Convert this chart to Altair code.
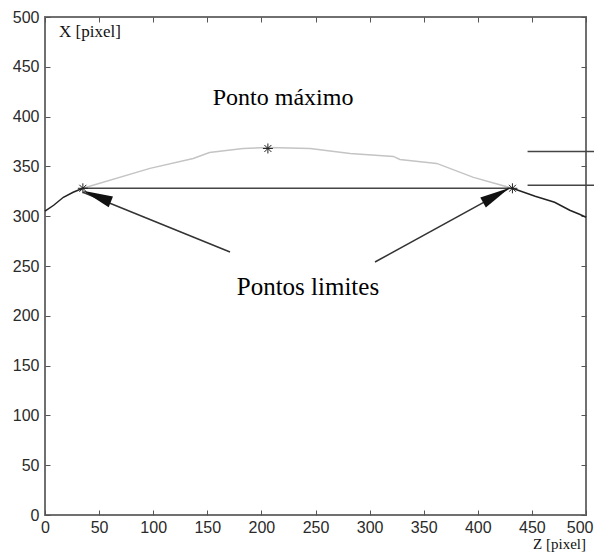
import altair as alt
import pandas as pd

# ---- data ----
tick_values = list(range(0, 501, 50))

left_z = [0, 8, 17, 26, 35]
left_x = [305, 311, 319, 324, 328]

arc_z = [35, 97, 137, 152, 183, 206, 245, 282, 322, 328, 362, 396, 432]
arc_x = [328, 348, 358, 364, 368, 369, 368, 363, 360, 357, 353, 339, 328]

right_z = [432, 453, 471, 485, 494, 500]
right_x = [328, 320, 314, 306, 302, 299]

chord_z = [35, 432]
chord_x = [328, 328]

star_z = [35, 206, 432]
star_x = [328, 368, 328]

side_lines = ["top", "bottom"]
side_z = [446, 520]
side_x = [365, 331]

arrow_names = ["left", "right"]
arrow_tail_z = [171, 305]
arrow_tail_x = [264, 254]
arrow_tip_z = [35, 429]
arrow_tip_x = [324, 328]
head_z = [48, 417]
head_x = [320, 321]
head_angle = [292, 61]

labels_text = ["Ponto máximo", "Pontos limites"]
labels_z = [220, 243]
labels_x = [412, 221]
labels_size = [24, 25]

# ---- tables ----
left_df = pd.DataFrame({"z": left_z, "x": left_x})
arc_df = pd.DataFrame({"z": arc_z, "x": arc_x})
right_df = pd.DataFrame({"z": right_z, "x": right_x})
chord_df = pd.DataFrame({"z": chord_z, "x": chord_x})
star_df = pd.DataFrame({"z": star_z, "x": star_x})
side_df = pd.DataFrame([
    {"line": n, "z": zz, "x": xv}
    for n, xv in zip(side_lines, side_x) for zz in side_z
])
arrow_df = pd.DataFrame([
    {"arrow": n, "order": 0, "z": tz, "x": tx} for n, tz, tx in zip(arrow_names, arrow_tail_z, arrow_tail_x)
] + [
    {"arrow": n, "order": 1, "z": pz, "x": px} for n, pz, px in zip(arrow_names, arrow_tip_z, arrow_tip_x)
])
head_df = pd.DataFrame({"z": head_z, "x": head_x, "angle": head_angle})
lab_df = pd.DataFrame({"t": labels_text, "z": labels_z, "x": labels_x, "s": labels_size})

xs = alt.Scale(domain=[0, 500], nice=False, zero=False)
ys = alt.Scale(domain=[0, 500], nice=False, zero=False)

TICKFONT = "Liberation Sans"
SERIF = "Liberation Serif"

common_axis = dict(
    values=tick_values, domain=False, grid=False, offset=-5, tickSize=5,
    tickColor="#555", tickWidth=1, labelFont=TICKFONT, labelFontSize=16,
    labelColor="#2a2a2a", labelOverlap=False, labelFlush=False, title=None,
)

x_bottom = alt.Axis(
    orient="bottom", labelPadding=4,
    labelAlign=alt.ConditionalAxisLabelAlign(
        condition={"test": "datum.value == 500", "value": "right"}, value="center"),
    labelOffset=alt.ConditionalAxisNumber(
        condition={"test": "datum.value == 500", "value": 7}, value=0),
    **common_axis,
)
y_left = alt.Axis(orient="left", labelPadding=6, **common_axis)
x_top = alt.Axis(orient="top", labels=False, **common_axis)
y_right = alt.Axis(orient="right", labels=False, **common_axis)


def enc(axis_x=None, axis_y=None):
    return dict(
        x=alt.X("z:Q", scale=xs, axis=axis_x),
        y=alt.Y("x:Q", scale=ys, axis=axis_y),
    )


axes_main = alt.Chart(left_df).mark_line(color="#222", strokeWidth=1.5).encode(
    **enc(x_bottom, y_left))
axes_other = alt.Chart(left_df).mark_line(opacity=0).encode(**enc(x_top, y_right))

arc = alt.Chart(arc_df).mark_line(color="#c4c4c4", strokeWidth=1.5).encode(**enc())
right = alt.Chart(right_df).mark_line(color="#222", strokeWidth=1.5).encode(**enc())
chord = alt.Chart(chord_df).mark_line(color="#444", strokeWidth=1.5).encode(**enc())
side = alt.Chart(side_df).mark_line(color="#444", strokeWidth=1.5, clip=False).encode(
    detail="line:N", **enc())
arrows = alt.Chart(arrow_df).mark_line(color="#333", strokeWidth=1.5).encode(
    detail="arrow:N", order="order:Q", **enc())
heads = alt.Chart(head_df).mark_point(
    shape="M0,-1L0.38,1L-0.38,1Z", size=900, filled=True, color="#111", opacity=1
).encode(angle=alt.Angle("angle:Q", scale=None), **enc())
stars = alt.Chart(star_df).mark_point(
    shape="M-1,0L1,0M0,-1L0,1M-0.7,-0.7L0.7,0.7M-0.7,0.7L0.7,-0.7",
    size=100, filled=False, color="#222", strokeWidth=1, opacity=1
).encode(**enc())

texts = alt.Chart(lab_df).mark_text(
    font=SERIF, color="#000", align="center", baseline="alphabetic"
).encode(text="t:N", size=alt.Size("s:Q", scale=None), **enc())

xlabel = alt.Chart(pd.DataFrame({"t": ["X [pixel]"], "z": [13], "x": [480]})).mark_text(
    font=SERIF, fontSize=17, color="#111", align="left", baseline="alphabetic"
).encode(text="t:N", **enc())
zlabel = alt.Chart(pd.DataFrame({"t": ["Z [pixel]"], "z": [500], "x": [-34]})).mark_text(
    font=SERIF, fontSize=15, color="#111", align="right", baseline="alphabetic"
).encode(text="t:N", **enc())

chart = alt.layer(
    axes_main, axes_other, arc, right, chord, side, arrows, heads, stars, texts, xlabel, zlabel
).resolve_axis(x="independent", y="independent").properties(
    width=541, height=498,
    autosize=alt.AutoSizeParams(type="none"),
    padding={"left": 37, "top": 9, "right": 8, "bottom": 37},
    background="white",
).configure_view(stroke="#707070", strokeWidth=2)

chart.save("out.html", embed_options={"renderer": "svg", "actions": False})
